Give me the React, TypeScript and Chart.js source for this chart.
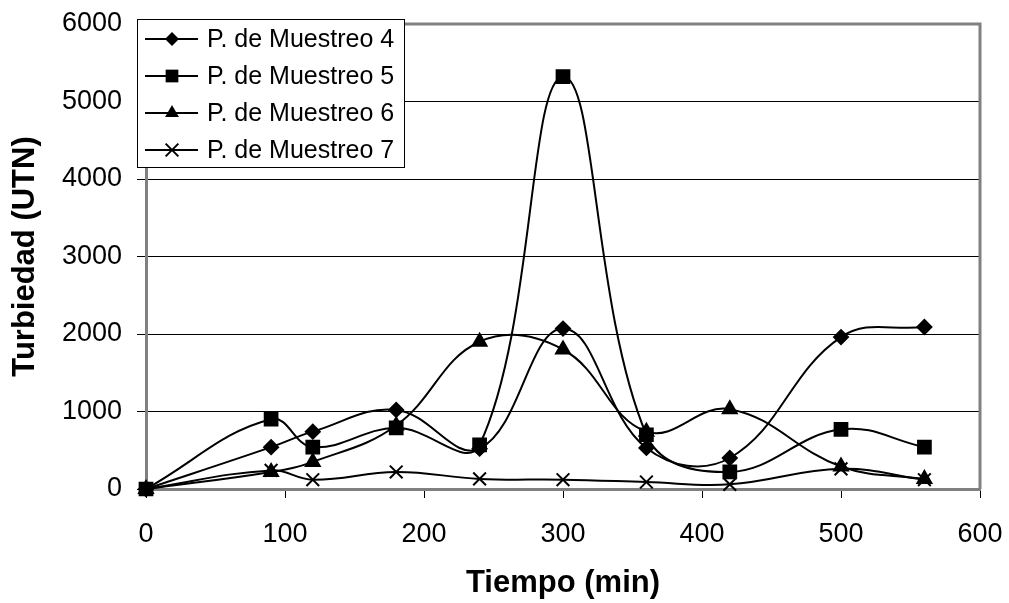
import React, { useEffect, useRef } from "react";
import { Chart, registerables } from "chart.js";

Chart.register(...registerables);

const tiempos = [0, 90, 120, 180, 240, 300, 360, 420, 500, 560];
const pm4 = [0, 540, 740, 1020, 520, 2070, 530, 400, 1960, 2090];
const pm5 = [0, 900, 540, 790, 570, 5320, 700, 220, 770, 540];
const pm6 = [0, 220, 350, 820, 1900, 1800, 740, 1030, 290, 130];
const pm7 = [0, 240, 120, 220, 130, 120, 90, 60, 260, 120];
const seriesNames = ["P. de Muestreo 4", "P. de Muestreo 5", "P. de Muestreo 6", "P. de Muestreo 7"];
const xTitle = "Tiempo (min)";
const yTitle = "Turbiedad (UTN)";

const FONT = "'Liberation Sans', Arial, sans-serif";
const pointStyles = ["rectRot", "rect", "triangle", "crossRot"];
const pointRadii = [7, 9, 8, 9];

function drawMarker(ctx: CanvasRenderingContext2D, style: string, x: number, y: number, r: number) {
  ctx.beginPath();
  if (style === "rectRot") {
    ctx.moveTo(x, y - r);
    ctx.lineTo(x + r, y);
    ctx.lineTo(x, y + r);
    ctx.lineTo(x - r, y);
    ctx.closePath();
    ctx.fill();
  } else if (style === "rect") {
    const s = Math.SQRT1_2 * r;
    ctx.rect(x - s, y - s, 2 * s, 2 * s);
    ctx.fill();
  } else if (style === "triangle") {
    ctx.moveTo(x, y - r);
    ctx.lineTo(x + 0.866 * r, y + r / 2);
    ctx.lineTo(x - 0.866 * r, y + r / 2);
    ctx.closePath();
    ctx.fill();
  } else {
    const s = Math.SQRT1_2 * r;
    ctx.moveTo(x - s, y - s);
    ctx.lineTo(x + s, y + s);
    ctx.moveTo(x + s, y - s);
    ctx.lineTo(x - s, y + s);
    ctx.stroke();
  }
}

const plotBorder = {
  id: "plotBorder",
  beforeDatasetsDraw(chart: any) {
    const { left, right, top, bottom } = chart.chartArea;
    const ctx = chart.ctx;
    ctx.save();
    ctx.strokeStyle = "#808080";
    ctx.lineWidth = 3;
    ctx.beginPath();
    ctx.moveTo(left, top);
    ctx.lineTo(right, top);
    ctx.lineTo(right, bottom);
    ctx.stroke();
    ctx.restore();
  },
};

const boxLegend = {
  id: "boxLegend",
  afterDraw(chart: any) {
    const ctx = chart.ctx;
    ctx.save();
    const x0 = 137, y0 = 19, x1 = 404, y1 = 167;
    ctx.fillStyle = "#ffffff";
    ctx.fillRect(x0, y0, x1 - x0, y1 - y0);
    ctx.strokeStyle = "#000000";
    ctx.lineWidth = 1;
    ctx.strokeRect(x0 + 0.5, y0 + 0.5, x1 - x0, y1 - y0);
    chart.data.datasets.forEach((ds: any, i: number) => {
      const y = 39 + i * 37;
      ctx.strokeStyle = "#000";
      ctx.fillStyle = "#000";
      ctx.lineWidth = 2;
      ctx.beginPath();
      ctx.moveTo(145, y);
      ctx.lineTo(198, y);
      ctx.stroke();
      drawMarker(ctx, pointStyles[i], 172, y, pointRadii[i]);
      ctx.font = `25px ${FONT}`;
      ctx.textBaseline = "middle";
      ctx.textAlign = "left";
      ctx.fillText(ds.label, 207, y + 1);
    });
    ctx.restore();
  },
};

export default function App() {
  const ref = useRef<HTMLCanvasElement | null>(null);

  useEffect(() => {
    if (!ref.current) return;
    const series = [pm4, pm5, pm6, pm7];
    const chart = new Chart(ref.current, {
      type: "line",
      data: {
        datasets: series.map((vals, i) => ({
          label: seriesNames[i],
          data: tiempos.map((t, j) => ({ x: t, y: vals[j] })),
          borderColor: "#000",
          backgroundColor: "#000",
          borderWidth: 2,
          pointStyle: pointStyles[i] as any,
          pointRadius: pointRadii[i],
          pointBorderWidth: 2,
          pointBorderColor: "#000",
          pointBackgroundColor: "#000",
          tension: 0.4,
          clip: false as any,
        })),
      },
      options: {
        animation: false,
        responsive: true,
        maintainAspectRatio: false,
        layout: { padding: { top: 24, right: 29, bottom: 0, left: 0 } },
        elements: { line: { capBezierPoints: false } },
        plugins: { legend: { display: false }, tooltip: { enabled: false } },
        scales: {
          x: {
            type: "linear",
            min: 0,
            max: 600,
            ticks: {
              stepSize: 100,
              color: "#000",
              font: { family: FONT, size: 27 },
              padding: 20,
              callback: (v: any) => String(v),
            },
            grid: { display: true, drawOnChartArea: false, drawTicks: true, tickLength: 9, color: "#000", lineWidth: 1 },
            border: { color: "#808080", width: 3 },
            title: {
              display: true,
              text: xTitle,
              color: "#000",
              font: { family: FONT, size: 31, weight: "bold", lineHeight: 1 },
              padding: { top: 0, bottom: 4 },
            },
            afterFit: (s: any) => {
              s.height = 114;
              s.paddingLeft = 0;
              s.paddingRight = 0;
            },
          },
          y: {
            type: "linear",
            min: 0,
            max: 6000,
            ticks: {
              stepSize: 1000,
              color: "#000",
              font: { family: FONT, size: 27 },
              padding: 15,
              callback: (v: any) => String(v),
            },
            grid: { display: true, drawTicks: true, tickLength: 9, color: "#000", lineWidth: 1 },
            border: { color: "#808080", width: 3 },
            title: {
              display: true,
              text: yTitle,
              color: "#000",
              font: { family: FONT, size: 31, weight: "bold", lineHeight: 1 },
              padding: { top: 10, bottom: 0 },
            },
            afterFit: (s: any) => {
              s.width = 146;
              s.paddingTop = 0;
              s.paddingBottom = 0;
            },
          },
        },
      },
      plugins: [plotBorder, boxLegend],
    });
    return () => chart.destroy();
  }, []);

  return (
    <div style={{ position: "absolute", left: 0, top: 0, width: 1009, height: 603, background: "#fff" }}>
      <canvas ref={ref} />
    </div>
  );
}
